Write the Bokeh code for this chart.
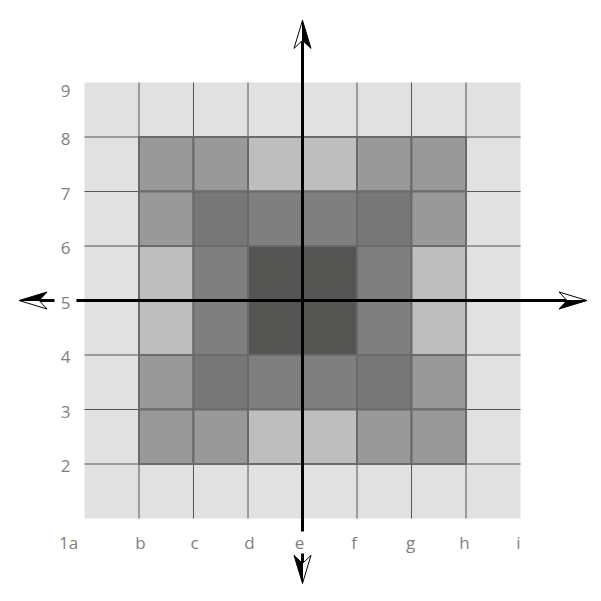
import numpy as np
from bokeh.plotting import figure
from bokeh.models import Range1d, ColumnDataSource
from bokeh.core.properties import value
from bokeh.embed import file_html
from bokeh.resources import INLINE

# ---- data ----
x_labels = ["1a", "b", "c", "d", "e", "f", "g", "h", "i"]
y_labels = ["2", "3", "4", "5", "6", "7", "8", "9"]
y_ticks = [2, 3, 4, 5, 6, 7, 8, 9]
palette = ["#e1e1e1", "#999999", "#bdbebd", "#777777", "#7f7f7f", "#555554"]
# shade index per cell, rows from top (row 8-9) to bottom (row 1-2), columns a..h
shade_rows = [
    [0, 0, 0, 0, 0, 0, 0, 0],
    [0, 1, 1, 2, 2, 1, 1, 0],
    [0, 1, 3, 4, 4, 3, 1, 0],
    [0, 2, 4, 5, 5, 4, 2, 0],
    [0, 2, 4, 5, 5, 4, 2, 0],
    [0, 1, 3, 4, 4, 3, 1, 0],
    [0, 1, 1, 2, 2, 1, 1, 0],
    [0, 0, 0, 0, 0, 0, 0, 0],
]
origin = (4, 5)  # axes cross at column e, row 5

PX = 54.5  # pixels per unit

p = figure(width=593, height=593, output_backend="svg", toolbar_location=None,
           x_range=Range1d(-1.541, 9.339), y_range=Range1d(-0.376, 10.505),
           min_border=0)
p.axis.visible = False
p.grid.visible = False
p.outline_line_color = None
p.background_fill_color = "white"

# cells
xs, ys, cols, inner = [], [], [], []
n = len(shade_rows)
for i, row in enumerate(shade_rows):
    yc = 1 + (n - 1 - i) + 0.5
    for j, s in enumerate(row):
        xs.append(j + 0.5)
        ys.append(yc)
        cols.append(palette[s])
        inner.append(s != 0)
src = ColumnDataSource(dict(x=xs, y=ys, c=cols))
p.rect("x", "y", 1, 1, source=src, fill_color="c", line_color=None)

# grid lines (interior)
for k in range(1, 8):
    p.segment(k, 1, k, 9, line_color="#555555", line_width=1)
for k in range(2, 9):
    p.segment(0, k, 8, k, line_color="#555555", line_width=1)

# inner cell borders
ix = [x for x, f in zip(xs, inner) if f]
iy = [y for y, f in zip(ys, inner) if f]
ic = [c for c, f in zip(cols, inner) if f]
p.rect(ix, iy, 1, 1, fill_color=ic, line_color="#6a6a6a", line_width=2)

# label placement
xoff = [-16, 1.5, 1, 1.5, -3, -3, -1, -1.5, -2]
xl_x = [i + o / PX for i, o in enumerate(xoff)]
xl_y = [1 - 24 / PX] * len(x_labels)
yoff = [8 if t == 9 else 2 for t in y_ticks]
yl_x = [-19 / PX] * len(y_ticks)
yl_y = [t - o / PX for t, o in zip(y_ticks, yoff)]

# axes with arrows; the axis lines are interrupted where they cross a label
L, W, N = 28 / PX, 8.5 / PX, 20 / PX
GAP = 11 / PX
ox, oy = origin
ends = [((ox, 10.14), (0, 1)), ((ox, -0.19), (0, -1)),
        ((-1.2, oy), (-1, 0)), ((9.22, oy), (1, 0))]
gaps = {(0, -1): xl_y[ox], (-1, 0): yl_x[y_ticks.index(oy)]}
for (tx, ty), (dx, dy) in ends:
    nx, ny = tx - dx * N, ty - dy * N
    g = gaps.get((dx, dy))
    if g is None:
        p.segment(ox, oy, nx, ny, line_color="black", line_width=3)
    elif dx == 0:
        p.segment([ox, ox], [oy, g + dy * GAP], [ox, ox], [g - dy * GAP, ny],
                  line_color="black", line_width=3) if False else \
        p.segment([ox, ox], [oy, g + dy * GAP], [ox, ox], [g - dy * GAP, ny],
                  line_color=None)
        p.segment([ox, ox], [oy, g + dy * GAP], [ox, ox], [g - dy * GAP, ny],
                  line_color=None)
        # first piece: origin -> just before the label; second: just after -> notch
        p.segment(x0=[ox, ox], y0=[oy, g + dy * GAP], x1=[ox, ox], y1=[g - dy * GAP, ny],
                  line_color=None)
        p.segment(x0=[ox, ox], y0=[oy, g + dy * GAP],
                  x1=[ox, ox], y1=[g - dy * GAP, ny], line_color=None)
        p.segment(x0=[ox], y0=[oy], x1=[ox], y1=[g - dy * GAP],
                  line_color="black", line_width=3)
        p.segment(x0=[ox], y0=[g + dy * GAP], x1=[ox], y1=[ny],
                  line_color="black", line_width=3)
    else:
        p.segment(x0=[ox], y0=[oy], x1=[g - dx * GAP], y1=[oy],
                  line_color="black", line_width=3)
        p.segment(x0=[g + dx * GAP], y0=[oy], x1=[nx], y1=[oy],
                  line_color="black", line_width=3)
    bx, by = dy, -dx  # black side
    bwx, bwy = tx - dx * L + bx * W, ty - dy * L + by * W
    wwx, wwy = tx - dx * L - bx * W, ty - dy * L - by * W
    p.patch([tx, wwx, nx], [ty, wwy, ny], fill_color="white", line_color="black", line_width=1)
    p.patch([tx, bwx, nx], [ty, bwy, ny], fill_color="black", line_color="black", line_width=1)

# labels
lab_font = value("Open Sans")
lab_color = "#808080"
p.text(x=xl_x, y=xl_y, text=x_labels,
       text_font=lab_font, text_font_size="17px", text_color=lab_color,
       text_align="center", text_baseline="middle")
p.text(x=yl_x, y=yl_y, text=y_labels,
       text_font=lab_font, text_font_size="17px", text_color=lab_color,
       text_align="center", text_baseline="middle")

open("out.html", "w").write(file_html(p, INLINE))
